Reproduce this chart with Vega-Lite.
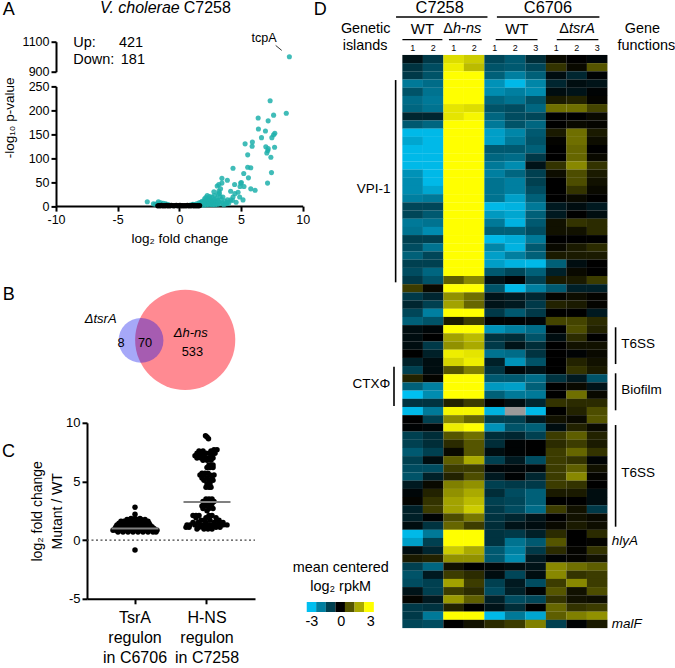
{"$schema":"https://vega.github.io/schema/vega-lite/v6.json","padding":{"left":2,"top":0,"right":0,"bottom":0},"background":"white","bounds":"flush","spacing":229.7,
"config":{"font":"Liberation Sans","view":{"stroke":null},"text":{"color":"black"},"axis":{"grid":false,"domainColor":"black","domainWidth":2,"tickColor":"black","tickWidth":2,"tickSize":5,"labelColor":"black","titleColor":"black","labelFontSize":12.5,"titleFontSize":13.5,"titleFontWeight":"normal","labelPadding":2,"labelFlush":false,"labelOverlap":false,"labelExpr":"''+datum.value"}},
"hconcat":[
{"bounds":"flush","spacing":14.7,"vconcat":[
{"width":246.7,"height":26.6,"data":{"values":[{"x":123.7,"y":8,"t":"V. cholerae","k":"i"},{"x":127.7,"y":8,"t":"C7258","k":"r"},{"x":-53.3,"y":10,"t":"A","k":"l"}]},
"encoding":{"x":{"field":"x","type":"quantitative","scale":{"domain":[0,246.7]},"axis":null},"y":{"field":"y","type":"quantitative","scale":{"domain":[26.6,0]},"axis":null},"text":{"field":"t"}},
"layer":[
{"transform":[{"filter":"datum.k=='i'"}],"mark":{"type":"text","fontStyle":"italic","fontSize":16,"align":"right"}},
{"transform":[{"filter":"datum.k=='r'"}],"mark":{"type":"text","fontSize":16,"align":"left"}},
{"transform":[{"filter":"datum.k=='l'"}],"mark":{"type":"text","fontSize":18,"align":"left"}}]},
{"width":246.7,"height":30,"layer":[
{"data":{"values":[{"x":8.92,"y":1000}]},"mark":{"type":"point","filled":true,"size":26,"color":"#1fb0ac","opacity":0.85},"encoding":{"x":{"field":"x","type":"quantitative","scale":{"domain":[-10,10]},"axis":null},"y":{"field":"y","type":"quantitative","scale":{"domain":[900,1100],"nice":false},"axis":{"values":[900,1000,1100],"title":null,"orient":"left","labelExpr":"''+datum.value"}}}},
{"data":{"values":[{"x":7.81,"x2":8.3,"y":1075,"y2":1042}]},"mark":{"type":"rule","color":"black","strokeWidth":0.8},"encoding":{"x":{"field":"x","type":"quantitative"},"x2":{"field":"x2"},"y":{"field":"y","type":"quantitative"},"y2":{"field":"y2"}}},
{"data":{"values":[{"x":5.84,"y":1125,"t":"tcpA"}]},"mark":{"type":"text","fontSize":12.6,"align":"left"},"encoding":{"x":{"field":"x","type":"quantitative"},"y":{"field":"y","type":"quantitative"},"text":{"field":"t"}}},
{"data":{"values":[{"x":-8.6,"y":1089,"t":"Up:"},{"x":-8.6,"y":975,"t":"Down:"},{"x":-4.9,"y":1089,"t":"421"},{"x":-4.75,"y":975,"t":"181"}]},"mark":{"type":"text","fontSize":14.5,"align":"left"},"encoding":{"x":{"field":"x","type":"quantitative"},"y":{"field":"y","type":"quantitative"},"text":{"field":"t"}}}
]},
{"width":246.7,"height":119.7,"encoding":{"x":{"field":"x","type":"quantitative","scale":{"domain":[-10,10]},"axis":{"values":[-10,-5,0,5,10],"title":"log₂ fold change","titlePadding":6,"labelExpr":"''+datum.value"}},"y":{"field":"y","type":"quantitative","scale":{"domain":[0,250],"nice":false},"axis":{"values":[0,50,100,150,200,250],"title":"-log₁₀ p-value","titleX":-40,"titleY":31,"labelExpr":"''+datum.value"}}},"layer":[
{"data":{"values":[{"x":7.36,"y":220},{"x":8.67,"y":194},{"x":7.64,"y":190},{"x":7.2,"y":178},{"x":6.39,"y":184},{"x":6.41,"y":161},{"x":6.98,"y":157},{"x":6.66,"y":143},{"x":7.74,"y":152},{"x":7.64,"y":149},{"x":7.5,"y":143},{"x":5.92,"y":134},{"x":5.33,"y":130},{"x":5.9,"y":125},{"x":7.01,"y":124},{"x":7.72,"y":123},{"x":7.17,"y":116},{"x":7.2,"y":120},{"x":7.09,"y":111},{"x":7.42,"y":102},{"x":5.54,"y":107},{"x":5.54,"y":81},{"x":5.79,"y":80},{"x":4.35,"y":79},{"x":7.47,"y":70},{"x":5.22,"y":68},{"x":5.6,"y":59},{"x":7.15,"y":48},{"x":4.97,"y":48},{"x":5.03,"y":49},{"x":4.48,"y":45},{"x":5.24,"y":41},{"x":4.92,"y":41},{"x":3.45,"y":58},{"x":3.89,"y":54},{"x":3.45,"y":48},{"x":3.07,"y":42},{"x":3.2,"y":45},{"x":3.34,"y":36},{"x":3.2,"y":31},{"x":2.8,"y":30},{"x":2.26,"y":22},{"x":5.79,"y":36},{"x":6.14,"y":33},{"x":4.16,"y":31},{"x":4.76,"y":29},{"x":4.5,"y":26},{"x":4.35,"y":19},{"x":4.89,"y":19},{"x":5.16,"y":13},{"x":4.16,"y":13},{"x":3.53,"y":19},{"x":3.9,"y":13},{"x":1.8,"y":3},{"x":1.9,"y":6},{"x":2,"y":2},{"x":2,"y":9},{"x":2.1,"y":5},{"x":2.1,"y":12},{"x":2.2,"y":3},{"x":2.2,"y":8},{"x":2.3,"y":14},{"x":2.3,"y":6},{"x":2.4,"y":3},{"x":2.4,"y":10},{"x":2.5,"y":7},{"x":2.5,"y":16},{"x":2.6,"y":4},{"x":2.6,"y":11},{"x":2.7,"y":8},{"x":2.7,"y":3},{"x":2.8,"y":13},{"x":2.8,"y":5},{"x":2.9,"y":10},{"x":2.9,"y":3},{"x":3,"y":7},{"x":3,"y":16},{"x":3.1,"y":4},{"x":3.1,"y":12},{"x":3.2,"y":9},{"x":3.3,"y":5},{"x":3.3,"y":20},{"x":3.4,"y":14},{"x":3.5,"y":7},{"x":3.6,"y":3},{"x":3.7,"y":10},{"x":3.8,"y":5},{"x":3.9,"y":8},{"x":1.7,"y":5},{"x":1.75,"y":8},{"x":1.85,"y":10},{"x":2.05,"y":15},{"x":2.15,"y":18},{"x":2.45,"y":20},{"x":2.65,"y":19},{"x":2.85,"y":22},{"x":3.15,"y":25},{"x":3.25,"y":27},{"x":4,"y":6},{"x":4.3,"y":12},{"x":4.6,"y":8},{"x":-2.6,"y":9},{"x":-2.1,"y":5},{"x":-1.7,"y":9},{"x":-1.5,"y":7},{"x":-1.3,"y":6},{"x":-1.1,"y":5},{"x":-0.9,"y":3},{"x":-1.95,"y":4},{"x":-1.8,"y":5},{"x":-1.6,"y":4},{"x":1.2,"y":3},{"x":1.4,"y":5},{"x":1.6,"y":7},{"x":1.1,"y":4},{"x":0.9,"y":2}]},"mark":{"type":"point","filled":true,"size":26,"color":"#1fb0ac","opacity":0.85}},
{"data":{"values":[{"x":-1.75,"y":0.5},{"x":-1.65,"y":1},{"x":-1.55,"y":0.5},{"x":-1.45,"y":1.5},{"x":-1.35,"y":0.5},{"x":-1.25,"y":1},{"x":-1.15,"y":0.5},{"x":-1.05,"y":1.5},{"x":-0.95,"y":0.5},{"x":-0.85,"y":1},{"x":-0.75,"y":0.5},{"x":-0.65,"y":1.5},{"x":-0.55,"y":1},{"x":-0.45,"y":0.5},{"x":-0.35,"y":1},{"x":-0.25,"y":1.5},{"x":-0.15,"y":0.5},{"x":-0.05,"y":1},{"x":0.05,"y":1.5},{"x":0.15,"y":0.5},{"x":0.25,"y":1},{"x":0.35,"y":0.5},{"x":0.45,"y":1},{"x":0.55,"y":0.5},{"x":0.65,"y":1.5},{"x":0.75,"y":0.5},{"x":0.85,"y":1},{"x":0.95,"y":0.5},{"x":1.05,"y":1.5},{"x":1.15,"y":0.5},{"x":1.25,"y":1},{"x":1.35,"y":0.5},{"x":1.45,"y":1},{"x":1.55,"y":0.5},{"x":1.65,"y":1}]},"mark":{"type":"point","filled":true,"size":26,"color":"black","opacity":1}}
]},
{"width":246.7,"height":186.6,"encoding":{"x":{"field":"x","type":"quantitative","scale":{"domain":[0,246.7]},"axis":null},"y":{"field":"y","type":"quantitative","scale":{"domain":[186.6,0]},"axis":null}},"layer":[
{"data":{"values":[{"x":129.2,"y":118.8,"set":"Δh-ns"}]},"mark":{"type":"point","filled":true,"opacity":1,"size":10029,"color":"#ff8a92"}},
{"data":{"values":[{"x":85,"y":119.3,"set":"ΔtsrA"}]},"mark":{"type":"point","filled":true,"opacity":0.35,"size":2011,"color":"#0006ea"}},
{"data":{"values":[{"x":65,"y":121.9,"t":"8"},{"x":89,"y":121.9,"t":"70"},{"x":136.4,"y":130.6,"t":"533"}]},"mark":{"type":"text","fontSize":12.8},"encoding":{"text":{"field":"t"}}},
{"data":{"values":[{"x":134.7,"y":111.6,"t":"Δh-ns"},{"x":44.7,"y":98.3,"t":"ΔtsrA"}]},"mark":{"type":"text","fontSize":13,"fontStyle":"italic"},"encoding":{"text":{"field":"t"}}},
{"data":{"values":[{"x":-53.3,"y":73.6,"t":"B"},{"x":-54,"y":230.6,"t":"C"}]},"mark":{"type":"text","fontSize":18,"align":"left"},"encoding":{"text":{"field":"t"}}}
]},
{"bounds":"flush","spacing":0,"hconcat":[
{"width":30.7,"height":176,"data":{"values":[{}]},"mark":{"type":"rule","opacity":0},"encoding":{}},
{"width":168,"height":176,"encoding":{"y":{"field":"fc","type":"quantitative","scale":{"domain":[-5,10],"nice":false},"axis":{"values":[-5,0,5,10],"titleLineHeight":20,"titlePadding":1,"labelFontSize":13,"titleFontSize":14,"labelExpr":"''+datum.value","title":["log₂ fold change","Mutant / WT"]}},"x":{"field":"g","type":"nominal","sort":["TsrA","H-NS"],"scale":{"domain":["TsrA","H-NS"],"paddingInner":0,"paddingOuter":0.1667},"axis":{"title":null,"labelAngle":0,"labelFontSize":16,"labelLineHeight":20,"labelPadding":6,"labelExpr":"datum.value=='TsrA'?['TsrA','regulon','in C6706']:['H-NS','regulon','in C7258']"}}},"layer":[
{"data":{"values":[{"g":"TsrA","fc":2.8,"j":0},{"g":"TsrA","fc":2.2,"j":0},{"g":"TsrA","fc":-0.85,"j":0},{"g":"TsrA","fc":1.85,"j":-4},{"g":"TsrA","fc":1.85,"j":0},{"g":"TsrA","fc":1.85,"j":5},{"g":"TsrA","fc":1.75,"j":-8},{"g":"TsrA","fc":1.75,"j":-5},{"g":"TsrA","fc":1.75,"j":-2},{"g":"TsrA","fc":1.75,"j":2},{"g":"TsrA","fc":1.75,"j":6},{"g":"TsrA","fc":1.75,"j":10},{"g":"TsrA","fc":1.6,"j":-14},{"g":"TsrA","fc":1.6,"j":-11},{"g":"TsrA","fc":1.6,"j":-8},{"g":"TsrA","fc":1.6,"j":-5},{"g":"TsrA","fc":1.6,"j":-2},{"g":"TsrA","fc":1.6,"j":1},{"g":"TsrA","fc":1.6,"j":4},{"g":"TsrA","fc":1.6,"j":7},{"g":"TsrA","fc":1.6,"j":10},{"g":"TsrA","fc":1.6,"j":13},{"g":"TsrA","fc":1.45,"j":-16},{"g":"TsrA","fc":1.45,"j":-13},{"g":"TsrA","fc":1.45,"j":-10},{"g":"TsrA","fc":1.45,"j":-7},{"g":"TsrA","fc":1.45,"j":-4},{"g":"TsrA","fc":1.45,"j":-1},{"g":"TsrA","fc":1.45,"j":2},{"g":"TsrA","fc":1.45,"j":5},{"g":"TsrA","fc":1.45,"j":8},{"g":"TsrA","fc":1.45,"j":11},{"g":"TsrA","fc":1.45,"j":14},{"g":"TsrA","fc":1.3,"j":-18},{"g":"TsrA","fc":1.3,"j":-15},{"g":"TsrA","fc":1.3,"j":-12},{"g":"TsrA","fc":1.3,"j":-9},{"g":"TsrA","fc":1.3,"j":-6},{"g":"TsrA","fc":1.3,"j":-3},{"g":"TsrA","fc":1.3,"j":0},{"g":"TsrA","fc":1.3,"j":3},{"g":"TsrA","fc":1.3,"j":6},{"g":"TsrA","fc":1.3,"j":9},{"g":"TsrA","fc":1.3,"j":12},{"g":"TsrA","fc":1.3,"j":15},{"g":"TsrA","fc":1.15,"j":-19},{"g":"TsrA","fc":1.15,"j":-16},{"g":"TsrA","fc":1.15,"j":-13},{"g":"TsrA","fc":1.15,"j":-10},{"g":"TsrA","fc":1.15,"j":-7},{"g":"TsrA","fc":1.15,"j":-4},{"g":"TsrA","fc":1.15,"j":-1},{"g":"TsrA","fc":1.15,"j":2},{"g":"TsrA","fc":1.15,"j":5},{"g":"TsrA","fc":1.15,"j":8},{"g":"TsrA","fc":1.15,"j":11},{"g":"TsrA","fc":1.15,"j":14},{"g":"TsrA","fc":1.15,"j":17},{"g":"TsrA","fc":1,"j":-20},{"g":"TsrA","fc":1,"j":-17},{"g":"TsrA","fc":1,"j":-14},{"g":"TsrA","fc":1,"j":-11},{"g":"TsrA","fc":1,"j":-8},{"g":"TsrA","fc":1,"j":-5},{"g":"TsrA","fc":1,"j":-2},{"g":"TsrA","fc":1,"j":1},{"g":"TsrA","fc":1,"j":4},{"g":"TsrA","fc":1,"j":7},{"g":"TsrA","fc":1,"j":10},{"g":"TsrA","fc":1,"j":13},{"g":"TsrA","fc":1,"j":16},{"g":"TsrA","fc":1,"j":19},{"g":"TsrA","fc":0.85,"j":-22},{"g":"TsrA","fc":0.85,"j":-19},{"g":"TsrA","fc":0.85,"j":-16},{"g":"TsrA","fc":0.85,"j":-13},{"g":"TsrA","fc":0.85,"j":-10},{"g":"TsrA","fc":0.85,"j":-7},{"g":"TsrA","fc":0.85,"j":-4},{"g":"TsrA","fc":0.85,"j":-1},{"g":"TsrA","fc":0.85,"j":2},{"g":"TsrA","fc":0.85,"j":5},{"g":"TsrA","fc":0.85,"j":8},{"g":"TsrA","fc":0.85,"j":11},{"g":"TsrA","fc":0.85,"j":14},{"g":"TsrA","fc":0.85,"j":17},{"g":"TsrA","fc":0.85,"j":20},{"g":"TsrA","fc":0.85,"j":22},{"g":"TsrA","fc":0.7,"j":-17},{"g":"TsrA","fc":0.7,"j":-12},{"g":"TsrA","fc":0.7,"j":-7},{"g":"TsrA","fc":0.7,"j":-2},{"g":"TsrA","fc":0.7,"j":3},{"g":"TsrA","fc":0.7,"j":8},{"g":"TsrA","fc":0.7,"j":13},{"g":"TsrA","fc":0.7,"j":18},{"g":"TsrA","fc":0.7,"j":21},
{"g":"H-NS","fc":8.9,"j":-1.5},{"g":"H-NS","fc":8.8,"j":0},{"g":"H-NS","fc":8.65,"j":1.5},{"g":"H-NS","fc":7.7,"j":7},{"g":"H-NS","fc":7.7,"j":10},{"g":"H-NS","fc":7.6,"j":4},{"g":"H-NS","fc":7.6,"j":-4},{"g":"H-NS","fc":7.6,"j":-8},{"g":"H-NS","fc":7.4,"j":-10},{"g":"H-NS","fc":7.4,"j":-7},{"g":"H-NS","fc":7.4,"j":-4},{"g":"H-NS","fc":7.4,"j":-1},{"g":"H-NS","fc":7.4,"j":2},{"g":"H-NS","fc":7.4,"j":5},{"g":"H-NS","fc":7.4,"j":8},{"g":"H-NS","fc":7.2,"j":-12},{"g":"H-NS","fc":7.2,"j":-9},{"g":"H-NS","fc":7.2,"j":-6},{"g":"H-NS","fc":7.2,"j":-3},{"g":"H-NS","fc":7.2,"j":5},{"g":"H-NS","fc":7,"j":-10},{"g":"H-NS","fc":7,"j":-6},{"g":"H-NS","fc":7,"j":-2},{"g":"H-NS","fc":7,"j":2},{"g":"H-NS","fc":7,"j":6},{"g":"H-NS","fc":6.8,"j":-4},{"g":"H-NS","fc":6.8,"j":0},{"g":"H-NS","fc":6.8,"j":4},{"g":"H-NS","fc":6.4,"j":2},{"g":"H-NS","fc":6.4,"j":6},{"g":"H-NS","fc":6.2,"j":3},{"g":"H-NS","fc":6.2,"j":6},{"g":"H-NS","fc":6.2,"j":0},{"g":"H-NS","fc":5.7,"j":-5},{"g":"H-NS","fc":5.7,"j":-2},{"g":"H-NS","fc":5.7,"j":1},{"g":"H-NS","fc":5.55,"j":-7},{"g":"H-NS","fc":5.55,"j":-3},{"g":"H-NS","fc":5.55,"j":3},{"g":"H-NS","fc":5.55,"j":7},{"g":"H-NS","fc":5.3,"j":-5},{"g":"H-NS","fc":5.3,"j":0},{"g":"H-NS","fc":5.3,"j":5},{"g":"H-NS","fc":5.1,"j":-3},{"g":"H-NS","fc":5.1,"j":2},{"g":"H-NS","fc":5.1,"j":6},{"g":"H-NS","fc":4.8,"j":0},{"g":"H-NS","fc":4.8,"j":3},{"g":"H-NS","fc":4.5,"j":-1},{"g":"H-NS","fc":4.5,"j":2},{"g":"H-NS","fc":4.5,"j":4},{"g":"H-NS","fc":3.5,"j":-1},{"g":"H-NS","fc":3.5,"j":2},{"g":"H-NS","fc":3.5,"j":5},{"g":"H-NS","fc":3.3,"j":-4},{"g":"H-NS","fc":3.3,"j":-1},{"g":"H-NS","fc":3.3,"j":3},{"g":"H-NS","fc":3.3,"j":7},{"g":"H-NS","fc":3.1,"j":-3},{"g":"H-NS","fc":3.1,"j":1},{"g":"H-NS","fc":3.1,"j":5},{"g":"H-NS","fc":2.9,"j":-5},{"g":"H-NS","fc":2.9,"j":-2},{"g":"H-NS","fc":2.9,"j":3},{"g":"H-NS","fc":2.7,"j":-4},{"g":"H-NS","fc":2.7,"j":2},{"g":"H-NS","fc":2.7,"j":6},{"g":"H-NS","fc":2.5,"j":0},{"g":"H-NS","fc":2.1,"j":-14},{"g":"H-NS","fc":2.1,"j":-11},{"g":"H-NS","fc":2.1,"j":-8},{"g":"H-NS","fc":2.1,"j":2},{"g":"H-NS","fc":2.1,"j":5},{"g":"H-NS","fc":1.9,"j":-11},{"g":"H-NS","fc":1.9,"j":-1},{"g":"H-NS","fc":1.9,"j":9},{"g":"H-NS","fc":1.7,"j":-6},{"g":"H-NS","fc":1.7,"j":-3},{"g":"H-NS","fc":1.7,"j":3},{"g":"H-NS","fc":1.7,"j":10},{"g":"H-NS","fc":1.7,"j":12},{"g":"H-NS","fc":1.5,"j":-14},{"g":"H-NS","fc":1.5,"j":-9},{"g":"H-NS","fc":1.5,"j":-1},{"g":"H-NS","fc":1.5,"j":7},{"g":"H-NS","fc":1.5,"j":13},{"g":"H-NS","fc":1.5,"j":16},{"g":"H-NS","fc":1.3,"j":-20},{"g":"H-NS","fc":1.3,"j":-17},{"g":"H-NS","fc":1.3,"j":-12},{"g":"H-NS","fc":1.3,"j":-6},{"g":"H-NS","fc":1.3,"j":-2},{"g":"H-NS","fc":1.3,"j":2},{"g":"H-NS","fc":1.3,"j":6},{"g":"H-NS","fc":1.3,"j":9},{"g":"H-NS","fc":1.3,"j":12},{"g":"H-NS","fc":1.3,"j":16},{"g":"H-NS","fc":1.3,"j":20},{"g":"H-NS","fc":1.1,"j":-21},{"g":"H-NS","fc":1.1,"j":-18},{"g":"H-NS","fc":1.1,"j":-8},{"g":"H-NS","fc":1.1,"j":-4},{"g":"H-NS","fc":1.1,"j":0},{"g":"H-NS","fc":1.1,"j":4},{"g":"H-NS","fc":1.1,"j":9},{"g":"H-NS","fc":1.1,"j":13},{"g":"H-NS","fc":0.95,"j":-10},{"g":"H-NS","fc":0.95,"j":-3},{"g":"H-NS","fc":0.95,"j":1},{"g":"H-NS","fc":0.95,"j":5}]},"mark":{"type":"point","filled":true,"size":30,"color":"black","opacity":1},"encoding":{"xOffset":{"field":"j","type":"quantitative","scale":{"domain":[-36,36],"range":[0,72]}}}},
{"data":{"values":[{"g":"TsrA","fc":1},{"g":"H-NS","fc":3.25}]},"mark":{"type":"tick","size":47,"thickness":2,"color":"#808080","opacity":1}},
{"data":{"values":[{"fc":0}]},"mark":{"type":"rule","strokeDash":[2,2.5],"strokeWidth":1.2,"color":"#444444"},"encoding":{"x":{"value":0},"x2":{"value":168}}}
]}
]}
]},
{"width":390,"height":668,"encoding":{"x":{"field":"c","type":"quantitative","scale":{"domain":[-6.193,12.832],"nice":false,"zero":false},"axis":null},"y":{"field":"r","type":"quantitative","scale":{"domain":[74.38,-7.219],"nice":false,"zero":false},"axis":null}},"layer":[
{"data":{"values":[{"r":0,"c":0,"v":-0.3},{"r":0,"c":1,"v":-0.9},{"r":0,"c":2,"v":2.6},{"r":0,"c":3,"v":2.4},{"r":0,"c":4,"v":-1.1},{"r":0,"c":5,"v":-1.4},{"r":0,"c":6,"v":-0.7},{"r":0,"c":7,"v":0.1},{"r":0,"c":8,"v":0},{"r":0,"c":9,"v":-0.1},{"r":1,"c":0,"v":-0.8},{"r":1,"c":1,"v":-1.2},{"r":1,"c":2,"v":2.8},{"r":1,"c":3,"v":2.2},{"r":1,"c":4,"v":-1.3},{"r":1,"c":5,"v":-1.4},{"r":1,"c":6,"v":-1.1},{"r":1,"c":7,"v":0.6},{"r":1,"c":8,"v":0.1},{"r":1,"c":9,"v":1},{"r":2,"c":0,"v":-0.9},{"r":2,"c":1,"v":-1.3},{"r":2,"c":2,"v":3},{"r":2,"c":3,"v":3},{"r":2,"c":4,"v":-1.5},{"r":2,"c":5,"v":-2},{"r":2,"c":6,"v":-1.5},{"r":2,"c":7,"v":-0.2},{"r":2,"c":8,"v":-0.6},{"r":2,"c":9,"v":-0.05},{"r":3,"c":0,"v":-1.9},{"r":3,"c":1,"v":-1.7},{"r":3,"c":2,"v":3},{"r":3,"c":3,"v":3},{"r":3,"c":4,"v":-2.3},{"r":3,"c":5,"v":-2.9},{"r":3,"c":6,"v":-2.1},{"r":3,"c":7,"v":-0.6},{"r":3,"c":8,"v":-0.2},{"r":3,"c":9,"v":-0.3},{"r":4,"c":0,"v":-1.3},{"r":4,"c":1,"v":-1.8},{"r":4,"c":2,"v":3},{"r":4,"c":3,"v":3},{"r":4,"c":4,"v":-2.2},{"r":4,"c":5,"v":-2},{"r":4,"c":6,"v":-2.2},{"r":4,"c":7,"v":-0.2},{"r":4,"c":8,"v":-0.3},{"r":4,"c":9,"v":-0.05},{"r":5,"c":0,"v":-1.7},{"r":5,"c":1,"v":-1.9},{"r":5,"c":2,"v":3},{"r":5,"c":3,"v":3},{"r":5,"c":4,"v":-1.6},{"r":5,"c":5,"v":-1.8},{"r":5,"c":6,"v":-1.3},{"r":5,"c":7,"v":0.3},{"r":5,"c":8,"v":0.4},{"r":5,"c":9,"v":0.05},{"r":6,"c":0,"v":-1.6},{"r":6,"c":1,"v":-1.8},{"r":6,"c":2,"v":2.7},{"r":6,"c":3,"v":2.6},{"r":6,"c":4,"v":-1.3},{"r":6,"c":5,"v":-1.2},{"r":6,"c":6,"v":-1.6},{"r":6,"c":7,"v":1.3},{"r":6,"c":8,"v":1.3},{"r":6,"c":9,"v":0.8},{"r":7,"c":0,"v":-0.6},{"r":7,"c":1,"v":-0.6},{"r":7,"c":2,"v":2.7},{"r":7,"c":3,"v":2.9},{"r":7,"c":4,"v":-1.6},{"r":7,"c":5,"v":-1.2},{"r":7,"c":6,"v":-1.1},{"r":7,"c":7,"v":0},{"r":7,"c":8,"v":0},{"r":7,"c":9,"v":0.1},{"r":8,"c":0,"v":-1.4},{"r":8,"c":1,"v":-1.6},{"r":8,"c":2,"v":3},{"r":8,"c":3,"v":3},{"r":8,"c":4,"v":-1.9},{"r":8,"c":5,"v":-1.3},{"r":8,"c":6,"v":-1.6},{"r":8,"c":7,"v":0},{"r":8,"c":8,"v":0.1},{"r":8,"c":9,"v":0.05},{"r":9,"c":0,"v":-2.9},{"r":9,"c":1,"v":-2.9},{"r":9,"c":2,"v":3},{"r":9,"c":3,"v":3},{"r":9,"c":4,"v":-2.5},{"r":9,"c":5,"v":-2.1},{"r":9,"c":6,"v":-1.4},{"r":9,"c":7,"v":0.3},{"r":9,"c":8,"v":1.3},{"r":9,"c":9,"v":0.3},{"r":10,"c":0,"v":-2.6},{"r":10,"c":1,"v":-2.9},{"r":10,"c":2,"v":3},{"r":10,"c":3,"v":3},{"r":10,"c":4,"v":-2.5},{"r":10,"c":5,"v":-1.9},{"r":10,"c":6,"v":-1.3},{"r":10,"c":7,"v":0.05},{"r":10,"c":8,"v":1.3},{"r":10,"c":9,"v":0.15},{"r":11,"c":0,"v":-2.9},{"r":11,"c":1,"v":-2.9},{"r":11,"c":2,"v":3},{"r":11,"c":3,"v":3},{"r":11,"c":4,"v":-1.4},{"r":11,"c":5,"v":-1.4},{"r":11,"c":6,"v":-1.5},{"r":11,"c":7,"v":0},{"r":11,"c":8,"v":1.2},{"r":11,"c":9,"v":0},{"r":12,"c":0,"v":-2.9},{"r":12,"c":1,"v":-2.9},{"r":12,"c":2,"v":3},{"r":12,"c":3,"v":3},{"r":12,"c":4,"v":-1.6},{"r":12,"c":5,"v":-1.7},{"r":12,"c":6,"v":-0.9},{"r":12,"c":7,"v":0},{"r":12,"c":8,"v":1.2},{"r":12,"c":9,"v":0.1},{"r":13,"c":0,"v":-2.9},{"r":13,"c":1,"v":-2.9},{"r":13,"c":2,"v":3},{"r":13,"c":3,"v":3},{"r":13,"c":4,"v":-1.9},{"r":13,"c":5,"v":-2.2},{"r":13,"c":6,"v":-0.3},{"r":13,"c":7,"v":0.6},{"r":13,"c":8,"v":1.6},{"r":13,"c":9,"v":0.6},{"r":14,"c":0,"v":-2.3},{"r":14,"c":1,"v":-2.9},{"r":14,"c":2,"v":3},{"r":14,"c":3,"v":3},{"r":14,"c":4,"v":-2},{"r":14,"c":5,"v":-1.6},{"r":14,"c":6,"v":-1},{"r":14,"c":7,"v":0.15},{"r":14,"c":8,"v":0.9},{"r":14,"c":9,"v":0.3},{"r":15,"c":0,"v":-2.2},{"r":15,"c":1,"v":-2.9},{"r":15,"c":2,"v":3},{"r":15,"c":3,"v":3},{"r":15,"c":4,"v":-1.8},{"r":15,"c":5,"v":-2},{"r":15,"c":6,"v":-1},{"r":15,"c":7,"v":0},{"r":15,"c":8,"v":0.9},{"r":15,"c":9,"v":0.2},{"r":16,"c":0,"v":-2.2},{"r":16,"c":1,"v":-2.6},{"r":16,"c":2,"v":3},{"r":16,"c":3,"v":3},{"r":16,"c":4,"v":-1.8},{"r":16,"c":5,"v":-2},{"r":16,"c":6,"v":-1.2},{"r":16,"c":7,"v":0},{"r":16,"c":8,"v":0.6},{"r":16,"c":9,"v":0.1},{"r":17,"c":0,"v":-2},{"r":17,"c":1,"v":-1.9},{"r":17,"c":2,"v":3},{"r":17,"c":3,"v":3},{"r":17,"c":4,"v":-1.8},{"r":17,"c":5,"v":-2.5},{"r":17,"c":6,"v":-1.5},{"r":17,"c":7,"v":0},{"r":17,"c":8,"v":0.1},{"r":17,"c":9,"v":0},{"r":18,"c":0,"v":-1.1},{"r":18,"c":1,"v":-1.1},{"r":18,"c":2,"v":3},{"r":18,"c":3,"v":3},{"r":18,"c":4,"v":-2.9},{"r":18,"c":5,"v":-2.8},{"r":18,"c":6,"v":-1.9},{"r":18,"c":7,"v":-0.4},{"r":18,"c":8,"v":-0.2},{"r":18,"c":9,"v":-0.4},{"r":19,"c":0,"v":-1.1},{"r":19,"c":1,"v":-1.4},{"r":19,"c":2,"v":3},{"r":19,"c":3,"v":3},{"r":19,"c":4,"v":-2.4},{"r":19,"c":5,"v":-2.6},{"r":19,"c":6,"v":-1.5},{"r":19,"c":7,"v":-0.4},{"r":19,"c":8,"v":0},{"r":19,"c":9,"v":-0.2},{"r":20,"c":0,"v":-1.9},{"r":20,"c":1,"v":-1.8},{"r":20,"c":2,"v":3},{"r":20,"c":3,"v":3},{"r":20,"c":4,"v":-1.9},{"r":20,"c":5,"v":-2.8},{"r":20,"c":6,"v":-1.4},{"r":20,"c":7,"v":0.2},{"r":20,"c":8,"v":0.6},{"r":20,"c":9,"v":0.5},{"r":21,"c":0,"v":-1.8},{"r":21,"c":1,"v":-2.2},{"r":21,"c":2,"v":3},{"r":21,"c":3,"v":3},{"r":21,"c":4,"v":-1.5},{"r":21,"c":5,"v":-1.5},{"r":21,"c":6,"v":-1.2},{"r":21,"c":7,"v":0.2},{"r":21,"c":8,"v":0.2},{"r":21,"c":9,"v":0.5},{"r":22,"c":0,"v":-1},{"r":22,"c":1,"v":-1},{"r":22,"c":2,"v":3},{"r":22,"c":3,"v":3},{"r":22,"c":4,"v":-2.9},{"r":22,"c":5,"v":-2.7},{"r":22,"c":6,"v":-1.9},{"r":22,"c":7,"v":0},{"r":22,"c":8,"v":0},{"r":22,"c":9,"v":0},{"r":23,"c":0,"v":-1.2},{"r":23,"c":1,"v":-1.8},{"r":23,"c":2,"v":3},{"r":23,"c":3,"v":3},{"r":23,"c":4,"v":-2.1},{"r":23,"c":5,"v":-2.8},{"r":23,"c":6,"v":-1.4},{"r":23,"c":7,"v":0.1},{"r":23,"c":8,"v":0.3},{"r":23,"c":9,"v":0.5},{"r":24,"c":0,"v":-1.5},{"r":24,"c":1,"v":-1.1},{"r":24,"c":2,"v":3},{"r":24,"c":3,"v":3},{"r":24,"c":4,"v":-2.5},{"r":24,"c":5,"v":-2},{"r":24,"c":6,"v":-1.5},{"r":24,"c":7,"v":0.3},{"r":24,"c":8,"v":0.3},{"r":24,"c":9,"v":0.3},{"r":25,"c":0,"v":-1},{"r":25,"c":1,"v":-1},{"r":25,"c":2,"v":3},{"r":25,"c":3,"v":3},{"r":25,"c":4,"v":-2.5},{"r":25,"c":5,"v":-2.8},{"r":25,"c":6,"v":-2.9},{"r":25,"c":7,"v":-1.5},{"r":25,"c":8,"v":-0.2},{"r":25,"c":9,"v":0},{"r":26,"c":0,"v":-1.2},{"r":26,"c":1,"v":-1.6},{"r":26,"c":2,"v":3},{"r":26,"c":3,"v":3},{"r":26,"c":4,"v":-1.4},{"r":26,"c":5,"v":-1.1},{"r":26,"c":6,"v":-1.5},{"r":26,"c":7,"v":-0.5},{"r":26,"c":8,"v":0.1},{"r":26,"c":9,"v":0},{"r":27,"c":0,"v":-0.9},{"r":27,"c":1,"v":-1.3},{"r":27,"c":2,"v":1.1},{"r":27,"c":3,"v":1.6},{"r":27,"c":4,"v":-0.3},{"r":27,"c":5,"v":-0.05},{"r":27,"c":6,"v":-1},{"r":27,"c":7,"v":0.3},{"r":27,"c":8,"v":0.3},{"r":27,"c":9,"v":0.7},{"r":28,"c":0,"v":0.7},{"r":28,"c":1,"v":0.1},{"r":28,"c":2,"v":3},{"r":28,"c":3,"v":3},{"r":28,"c":4,"v":-1.3},{"r":28,"c":5,"v":-2.9},{"r":28,"c":6,"v":-2},{"r":28,"c":7,"v":-1.4},{"r":28,"c":8,"v":-0.5},{"r":28,"c":9,"v":-0.5},{"r":29,"c":0,"v":-0.9},{"r":29,"c":1,"v":-0.6},{"r":29,"c":2,"v":1.7},{"r":29,"c":3,"v":1.3},{"r":29,"c":4,"v":-0.3},{"r":29,"c":5,"v":-0.4},{"r":29,"c":6,"v":-0.6},{"r":29,"c":7,"v":0.05},{"r":29,"c":8,"v":0.15},{"r":29,"c":9,"v":0.05},{"r":30,"c":0,"v":-0.6},{"r":30,"c":1,"v":-1},{"r":30,"c":2,"v":1.9},{"r":30,"c":3,"v":1.2},{"r":30,"c":4,"v":-0.3},{"r":30,"c":5,"v":-0.4},{"r":30,"c":6,"v":-0.9},{"r":30,"c":7,"v":0.4},{"r":30,"c":8,"v":0.3},{"r":30,"c":9,"v":0.05},{"r":31,"c":0,"v":-1.1},{"r":31,"c":1,"v":-2},{"r":31,"c":2,"v":3},{"r":31,"c":3,"v":3},{"r":31,"c":4,"v":-0.9},{"r":31,"c":5,"v":-1.4},{"r":31,"c":6,"v":-0.9},{"r":31,"c":7,"v":0},{"r":31,"c":8,"v":0},{"r":31,"c":9,"v":-0.4},{"r":32,"c":0,"v":-1.5},{"r":32,"c":1,"v":-1.3},{"r":32,"c":2,"v":0.3},{"r":32,"c":3,"v":0.7},{"r":32,"c":4,"v":-0.05},{"r":32,"c":5,"v":-0.05},{"r":32,"c":6,"v":-0.1},{"r":32,"c":7,"v":0.8},{"r":32,"c":8,"v":0.8},{"r":32,"c":9,"v":0.5},{"r":33,"c":0,"v":-0.2},{"r":33,"c":1,"v":-0.1},{"r":33,"c":2,"v":3},{"r":33,"c":3,"v":3},{"r":33,"c":4,"v":-2.3},{"r":33,"c":5,"v":-2},{"r":33,"c":6,"v":-1.7},{"r":33,"c":7,"v":0},{"r":33,"c":8,"v":0.9},{"r":33,"c":9,"v":0.4},{"r":34,"c":0,"v":-0.2},{"r":34,"c":1,"v":0},{"r":34,"c":2,"v":1.9},{"r":34,"c":3,"v":2.2},{"r":34,"c":4,"v":-0.8},{"r":34,"c":5,"v":-0.7},{"r":34,"c":6,"v":-1.3},{"r":34,"c":7,"v":-0.2},{"r":34,"c":8,"v":0.5},{"r":34,"c":9,"v":0},{"r":35,"c":0,"v":-0.2},{"r":35,"c":1,"v":-0.9},{"r":35,"c":2,"v":1.7},{"r":35,"c":3,"v":2},{"r":35,"c":4,"v":-0.9},{"r":35,"c":5,"v":-0.3},{"r":35,"c":6,"v":-0.7},{"r":35,"c":7,"v":0},{"r":35,"c":8,"v":0.2},{"r":35,"c":9,"v":0.2},{"r":36,"c":0,"v":0},{"r":36,"c":1,"v":-0.5},{"r":36,"c":2,"v":2.8},{"r":36,"c":3,"v":2.7},{"r":36,"c":4,"v":-1.8},{"r":36,"c":5,"v":-1.7},{"r":36,"c":6,"v":-0.8},{"r":36,"c":7,"v":0},{"r":36,"c":8,"v":-0.05},{"r":36,"c":9,"v":0.1},{"r":37,"c":0,"v":-0.5},{"r":37,"c":1,"v":-0.2},{"r":37,"c":2,"v":2.5},{"r":37,"c":3,"v":2.8},{"r":37,"c":4,"v":-0.5},{"r":37,"c":5,"v":-2.3},{"r":37,"c":6,"v":-1.3},{"r":37,"c":7,"v":0},{"r":37,"c":8,"v":0.4},{"r":37,"c":9,"v":0.2},{"r":38,"c":0,"v":-1},{"r":38,"c":1,"v":-0.2},{"r":38,"c":2,"v":1},{"r":38,"c":3,"v":1.5},{"r":38,"c":4,"v":-0.8},{"r":38,"c":5,"v":-0.1},{"r":38,"c":6,"v":-0.3},{"r":38,"c":7,"v":0},{"r":38,"c":8,"v":0.6},{"r":38,"c":9,"v":0.3},{"r":39,"c":0,"v":0.4},{"r":39,"c":1,"v":0.05},{"r":39,"c":2,"v":3},{"r":39,"c":3,"v":3},{"r":39,"c":4,"v":-1.4},{"r":39,"c":5,"v":-1.4},{"r":39,"c":6,"v":-1.7},{"r":39,"c":7,"v":-0.8},{"r":39,"c":8,"v":-0.4},{"r":39,"c":9,"v":-1.3},{"r":40,"c":0,"v":-1.5},{"r":40,"c":1,"v":-2},{"r":40,"c":2,"v":3},{"r":40,"c":3,"v":3},{"r":40,"c":4,"v":-2.4},{"r":40,"c":5,"v":-2.5},{"r":40,"c":6,"v":-1.5},{"r":40,"c":7,"v":0},{"r":40,"c":8,"v":0.1},{"r":40,"c":9,"v":-0.3},{"r":41,"c":0,"v":-3},{"r":41,"c":1,"v":-2.2},{"r":41,"c":2,"v":3},{"r":41,"c":3,"v":3},{"r":41,"c":4,"v":-1.5},{"r":41,"c":5,"v":-1.9},{"r":41,"c":6,"v":-1.9},{"r":41,"c":7,"v":0},{"r":41,"c":8,"v":1.3},{"r":41,"c":9,"v":0.1},{"r":42,"c":0,"v":-0.8},{"r":42,"c":1,"v":-0.8},{"r":42,"c":2,"v":0.4},{"r":42,"c":3,"v":0.7},{"r":42,"c":4,"v":0},{"r":42,"c":5,"v":-0.2},{"r":42,"c":6,"v":-0.6},{"r":42,"c":7,"v":0.6},{"r":42,"c":8,"v":0.5},{"r":42,"c":9,"v":0.5},{"r":43,"c":0,"v":-2.9},{"r":43,"c":1,"v":-1.9},{"r":43,"c":2,"v":2.9},{"r":43,"c":3,"v":2.9},{"r":43,"c":4,"v":-2.8},{"r":43,"c":6,"v":-2.9},{"r":43,"c":7,"v":0},{"r":43,"c":8,"v":0.4},{"r":43,"c":9,"v":0.9},{"r":44,"c":0,"v":0},{"r":44,"c":1,"v":-1},{"r":44,"c":2,"v":1.6},{"r":44,"c":3,"v":1.2},{"r":44,"c":4,"v":-1},{"r":44,"c":5,"v":-1},{"r":44,"c":6,"v":-0.4},{"r":44,"c":7,"v":0.2},{"r":44,"c":8,"v":0.1},{"r":44,"c":9,"v":1},{"r":45,"c":0,"v":-0.05},{"r":45,"c":1,"v":-0.1},{"r":45,"c":2,"v":2.8},{"r":45,"c":3,"v":3},{"r":45,"c":4,"v":-2.3},{"r":45,"c":5,"v":-1.3},{"r":45,"c":6,"v":-1.5},{"r":45,"c":7,"v":-0.2},{"r":45,"c":8,"v":0.4},{"r":45,"c":9,"v":0.1},{"r":46,"c":0,"v":-1},{"r":46,"c":1,"v":-0.7},{"r":46,"c":2,"v":1},{"r":46,"c":3,"v":1.3},{"r":46,"c":4,"v":-0.7},{"r":46,"c":5,"v":-0.6},{"r":46,"c":6,"v":-1},{"r":46,"c":7,"v":0.7},{"r":46,"c":8,"v":1.1},{"r":46,"c":9,"v":0.4},{"r":47,"c":0,"v":-1},{"r":47,"c":1,"v":-0.7},{"r":47,"c":2,"v":0.5},{"r":47,"c":3,"v":1},{"r":47,"c":4,"v":-0.7},{"r":47,"c":5,"v":-0.05},{"r":47,"c":6,"v":0},{"r":47,"c":7,"v":0.5},{"r":47,"c":8,"v":0.7},{"r":47,"c":9,"v":0.3},{"r":48,"c":0,"v":-1.4},{"r":48,"c":1,"v":-1},{"r":48,"c":2,"v":0.1},{"r":48,"c":3,"v":1},{"r":48,"c":4,"v":-0.2},{"r":48,"c":5,"v":-0.05},{"r":48,"c":6,"v":0},{"r":48,"c":7,"v":0.7},{"r":48,"c":8,"v":1.2},{"r":48,"c":9,"v":0.6},{"r":49,"c":0,"v":-1},{"r":49,"c":1,"v":-0.2},{"r":49,"c":2,"v":1.1},{"r":49,"c":3,"v":2},{"r":49,"c":4,"v":-1},{"r":49,"c":5,"v":-0.4},{"r":49,"c":6,"v":-1.2},{"r":49,"c":7,"v":0.7},{"r":49,"c":8,"v":0.6},{"r":49,"c":9,"v":-0.05},{"r":50,"c":0,"v":-1.2},{"r":50,"c":1,"v":-1.2},{"r":50,"c":2,"v":0.7},{"r":50,"c":3,"v":0.7},{"r":50,"c":4,"v":-0.1},{"r":50,"c":5,"v":-0.1},{"r":50,"c":6,"v":-0.1},{"r":50,"c":7,"v":0.7},{"r":50,"c":8,"v":1.1},{"r":50,"c":9,"v":0.2},{"r":51,"c":0,"v":-1.3},{"r":51,"c":1,"v":-0.5},{"r":51,"c":2,"v":0.4},{"r":51,"c":3,"v":0.9},{"r":51,"c":4,"v":-0.4},{"r":51,"c":5,"v":-0.05},{"r":51,"c":6,"v":-0.6},{"r":51,"c":7,"v":0.7},{"r":51,"c":8,"v":1.6},{"r":51,"c":9,"v":0.05},{"r":52,"c":0,"v":-0.4},{"r":52,"c":1,"v":0.1},{"r":52,"c":2,"v":1.5},{"r":52,"c":3,"v":1.7},{"r":52,"c":4,"v":-1},{"r":52,"c":5,"v":-0.9},{"r":52,"c":6,"v":-0.9},{"r":52,"c":7,"v":0.7},{"r":52,"c":8,"v":0.6},{"r":52,"c":9,"v":0},{"r":53,"c":0,"v":-0.1},{"r":53,"c":1,"v":0.4},{"r":53,"c":2,"v":1.7},{"r":53,"c":3,"v":2},{"r":53,"c":4,"v":-0.7},{"r":53,"c":5,"v":-1.2},{"r":53,"c":6,"v":-1.5},{"r":53,"c":7,"v":0.3},{"r":53,"c":8,"v":0.3},{"r":53,"c":9,"v":-0.2},{"r":54,"c":0,"v":0.05},{"r":54,"c":1,"v":0.6},{"r":54,"c":2,"v":1.9},{"r":54,"c":3,"v":2.2},{"r":54,"c":4,"v":-1},{"r":54,"c":5,"v":-1.1},{"r":54,"c":6,"v":-1.5},{"r":54,"c":7,"v":0},{"r":54,"c":8,"v":0},{"r":54,"c":9,"v":-0.2},{"r":55,"c":0,"v":-0.5},{"r":55,"c":1,"v":0.7},{"r":55,"c":2,"v":1.9},{"r":55,"c":3,"v":2.4},{"r":55,"c":4,"v":-0.9},{"r":55,"c":5,"v":-1.2},{"r":55,"c":6,"v":-1.7},{"r":55,"c":7,"v":0.7},{"r":55,"c":8,"v":0.2},{"r":55,"c":9,"v":-0.9},{"r":56,"c":0,"v":-0.5},{"r":56,"c":1,"v":-0.05},{"r":56,"c":2,"v":0.9},{"r":56,"c":3,"v":1.4},{"r":56,"c":4,"v":-0.8},{"r":56,"c":5,"v":-0.6},{"r":56,"c":6,"v":-0.3},{"r":56,"c":7,"v":0},{"r":56,"c":8,"v":0.2},{"r":56,"c":9,"v":0.1},{"r":57,"c":0,"v":-0.2},{"r":57,"c":1,"v":-0.8},{"r":57,"c":2,"v":1.2},{"r":57,"c":3,"v":0.7},{"r":57,"c":4,"v":-0.7},{"r":57,"c":5,"v":-0.3},{"r":57,"c":6,"v":-0.2},{"r":57,"c":7,"v":0.1},{"r":57,"c":8,"v":0.3},{"r":57,"c":9,"v":0.15},{"r":58,"c":0,"v":-2.9},{"r":58,"c":1,"v":-1.9},{"r":58,"c":2,"v":3},{"r":58,"c":3,"v":3},{"r":58,"c":4,"v":-0.8},{"r":58,"c":5,"v":-0.9},{"r":58,"c":6,"v":-0.5},{"r":58,"c":7,"v":0.5},{"r":58,"c":8,"v":0},{"r":58,"c":9,"v":0.5},{"r":59,"c":0,"v":-2.5},{"r":59,"c":1,"v":-1},{"r":59,"c":2,"v":3},{"r":59,"c":3,"v":3},{"r":59,"c":4,"v":-0.8},{"r":59,"c":5,"v":-1.8},{"r":59,"c":6,"v":-1.4},{"r":59,"c":7,"v":1},{"r":59,"c":8,"v":0},{"r":59,"c":9,"v":0.05},{"r":60,"c":0,"v":-0.2},{"r":60,"c":1,"v":-0.6},{"r":60,"c":2,"v":2.4},{"r":60,"c":3,"v":2},{"r":60,"c":4,"v":-1.4},{"r":60,"c":5,"v":-2},{"r":60,"c":6,"v":-0.9},{"r":60,"c":7,"v":0.5},{"r":60,"c":8,"v":0.05},{"r":60,"c":9,"v":0.6},{"r":61,"c":0,"v":0.3},{"r":61,"c":1,"v":0.4},{"r":61,"c":2,"v":1.7},{"r":61,"c":3,"v":1.7},{"r":61,"c":4,"v":-1.4},{"r":61,"c":5,"v":-2.2},{"r":61,"c":6,"v":-0.4},{"r":61,"c":7,"v":-0.05},{"r":61,"c":8,"v":0.05},{"r":61,"c":9,"v":0.2},{"r":62,"c":0,"v":-1},{"r":62,"c":1,"v":-1.6},{"r":62,"c":2,"v":0.2},{"r":62,"c":3,"v":0},{"r":62,"c":4,"v":-0.1},{"r":62,"c":5,"v":-0.2},{"r":62,"c":6,"v":-0.3},{"r":62,"c":7,"v":1.6},{"r":62,"c":8,"v":1.3},{"r":62,"c":9,"v":1.1},{"r":63,"c":0,"v":-1.3},{"r":63,"c":1,"v":-0.4},{"r":63,"c":2,"v":0.7},{"r":63,"c":3,"v":0.5},{"r":63,"c":4,"v":-0.2},{"r":63,"c":5,"v":-1.1},{"r":63,"c":6,"v":-0.2},{"r":63,"c":7,"v":1.6},{"r":63,"c":8,"v":0.6},{"r":63,"c":9,"v":0.7},{"r":64,"c":0,"v":-1.2},{"r":64,"c":1,"v":-1},{"r":64,"c":2,"v":1.9},{"r":64,"c":3,"v":0.7},{"r":64,"c":4,"v":-1},{"r":64,"c":5,"v":-0.4},{"r":64,"c":6,"v":-1.2},{"r":64,"c":7,"v":0.7},{"r":64,"c":8,"v":1.6},{"r":64,"c":9,"v":0.7},{"r":65,"c":0,"v":-0.3},{"r":65,"c":1,"v":-1},{"r":65,"c":2,"v":0.7},{"r":65,"c":3,"v":0.5},{"r":65,"c":4,"v":-1.2},{"r":65,"c":5,"v":-0.5},{"r":65,"c":6,"v":-0.05},{"r":65,"c":7,"v":1},{"r":65,"c":8,"v":0.2},{"r":65,"c":9,"v":0.9},{"r":66,"c":0,"v":0.05},{"r":66,"c":1,"v":-0.4},{"r":66,"c":2,"v":1.8},{"r":66,"c":3,"v":1.1},{"r":66,"c":4,"v":-0.5},{"r":66,"c":5,"v":-1.2},{"r":66,"c":6,"v":-1.1},{"r":66,"c":7,"v":0.6},{"r":66,"c":8,"v":0.2},{"r":66,"c":9,"v":0.15},{"r":67,"c":0,"v":-0.9},{"r":67,"c":1,"v":-0.8},{"r":67,"c":2,"v":0.4},{"r":67,"c":3,"v":0},{"r":67,"c":4,"v":-0.3},{"r":67,"c":5,"v":-0.7},{"r":67,"c":6,"v":0},{"r":67,"c":7,"v":1.2},{"r":67,"c":8,"v":0.6},{"r":67,"c":9,"v":0.7},{"r":68,"c":0,"v":-0.9},{"r":68,"c":1,"v":-1.9},{"r":68,"c":2,"v":3},{"r":68,"c":3,"v":3},{"r":68,"c":4,"v":-2.9},{"r":68,"c":5,"v":-1.9},{"r":68,"c":6,"v":-2.6},{"r":68,"c":7,"v":1.1},{"r":68,"c":8,"v":1.5},{"r":68,"c":9,"v":1.7},{"r":69,"c":0,"v":-1.1},{"r":69,"c":1,"v":-1.2},{"r":69,"c":2,"v":0},{"r":69,"c":3,"v":0.2},{"r":69,"c":4,"v":0.5},{"r":69,"c":5,"v":0.7},{"r":69,"c":6,"v":1.5},{"r":69,"c":7,"v":-1},{"r":69,"c":8,"v":-0.05},{"r":69,"c":9,"v":0.3}]},"mark":{"type":"rect","width":20.6,"height":8.3},"encoding":{"color":{"field":"v","type":"quantitative","scale":{"domain":[-3,0,3],"range":["#00bff0","#000000","#ffff00"],"clamp":true,"interpolate":"rgb"},"legend":null}}},
{"data":{"values":[{"r":43,"c":5}]},"mark":{"type":"rect","width":20.6,"height":8.3,"color":"#9a9a9a"}},
{"data":{"values":[{"c":-4.93,"r":66.93,"v":-3},{"c":-4.47,"r":66.93,"v":-2},{"c":-4,"r":66.93,"v":-1},{"c":-3.53,"r":66.93,"v":0},{"c":-3.07,"r":66.93,"v":1},{"c":-2.6,"r":66.93,"v":2},{"c":-2.13,"r":66.93,"v":3}]},"mark":{"type":"rect","width":9.7,"height":10},"encoding":{"color":{"field":"v","type":"quantitative","legend":null}}},
{"data":{"values":[{"c":-0.81,"c2":3.65,"r":-5.14},{"c":4.11,"c2":9.11,"r":-5.14},{"c":-0.5,"c2":1.45,"r":-2.37},{"c":1.77,"c2":3.37,"r":-2.37},{"c":4.05,"c2":6.09,"r":-2.37},{"c":7.03,"c2":9.06,"r":-2.37}]},"mark":{"type":"rule","color":"black","strokeWidth":1.3},"encoding":{"x2":{"field":"c2"}}},
{"data":{"values":[{"c":-0.83,"r":2.56,"r2":27.27},{"c":-0.91,"r":37.58,"r2":42.38},{"c":9.9,"r":32.76,"r2":37.25},{"c":9.9,"r":38.38,"r2":42.9},{"c":9.9,"r":44.7,"r2":57.12}]},"mark":{"type":"rule","color":"black","strokeWidth":1.6},"encoding":{"y2":{"field":"r2"}}},
{"data":{"values":[{"c":1.32,"r":-6.19,"t":"C7258"},{"c":6.6,"r":-6.19,"t":"C6706"}]},"mark":{"type":"text","fontSize":16.4},"encoding":{"text":{"field":"t"}}},
{"data":{"values":[{"c":0.476,"r":-3.67,"t":"WT"},{"c":5.08,"r":-3.67,"t":"WT"}]},"mark":{"type":"text","fontSize":15},"encoding":{"text":{"field":"t"}}},
{"data":{"values":[{"c":1.97,"r":-3.67,"t":"Δ"},{"c":7.63,"r":-3.67,"t":"Δ"}]},"mark":{"type":"text","fontSize":14.5,"align":"right"},"encoding":{"text":{"field":"t"}}},
{"data":{"values":[{"c":1.97,"r":-3.67,"t":"h-ns"},{"c":7.63,"r":-3.67,"t":"tsrA"}]},"mark":{"type":"text","fontSize":14.5,"align":"left","fontStyle":"italic"},"encoding":{"text":{"field":"t"}}},
{"data":{"values":[{"c":-2.29,"r":-3.67,"t":"Genetic"},{"c":-2.32,"r":-1.6,"t":"islands"},{"c":11.21,"r":-3.67,"t":"Gene"},{"c":11.4,"r":-1.6,"t":"functions"},{"c":-3.51,"r":62.2,"t":"mean centered"},{"c":-3.51,"r":64.45,"t":"log₂ rpkM"},{"c":-4.92,"r":68.73,"t":"-3"},{"c":-3.48,"r":68.73,"t":"0"},{"c":-2.05,"r":68.73,"t":"3"}]},"mark":{"type":"text","fontSize":14.4},"encoding":{"text":{"field":"t"}}},
{"data":{"values":[{"c":-1.9,"r":15.83,"t":"VPI-1"},{"c":-2.01,"r":39.73,"t":"CTXΦ"}]},"mark":{"type":"text","fontSize":13.5},"encoding":{"text":{"field":"t"}}},
{"data":{"values":[{"c":10.18,"r":34.8,"t":"T6SS"},{"c":10.18,"r":40.46,"t":"Biofilm"},{"c":10.18,"r":50.6,"t":"T6SS"}]},"mark":{"type":"text","fontSize":13.5,"align":"left"},"encoding":{"text":{"field":"t"}}},
{"data":{"values":[{"c":9.71,"r":58.87,"t":"hlyA"},{"c":9.71,"r":68.97,"t":"malF"}]},"mark":{"type":"text","fontSize":13.5,"align":"left","fontStyle":"italic"},"encoding":{"text":{"field":"t"}}},
{"data":{"values":[{"c":0,"r":-1.35,"t":"1"},{"c":1,"r":-1.35,"t":"2"},{"c":2,"r":-1.35,"t":"1"},{"c":3,"r":-1.35,"t":"2"},{"c":4,"r":-1.35,"t":"1"},{"c":5,"r":-1.35,"t":"2"},{"c":6,"r":-1.35,"t":"3"},{"c":7,"r":-1.35,"t":"1"},{"c":8,"r":-1.35,"t":"2"},{"c":9,"r":-1.35,"t":"3"}]},"mark":{"type":"text","fontSize":9},"encoding":{"text":{"field":"t"}}},
{"data":{"values":[{"c":-4.83,"r":-6,"t":"D"}]},"mark":{"type":"text","fontSize":18,"align":"left"},"encoding":{"text":{"field":"t"}}}
]}
]}
